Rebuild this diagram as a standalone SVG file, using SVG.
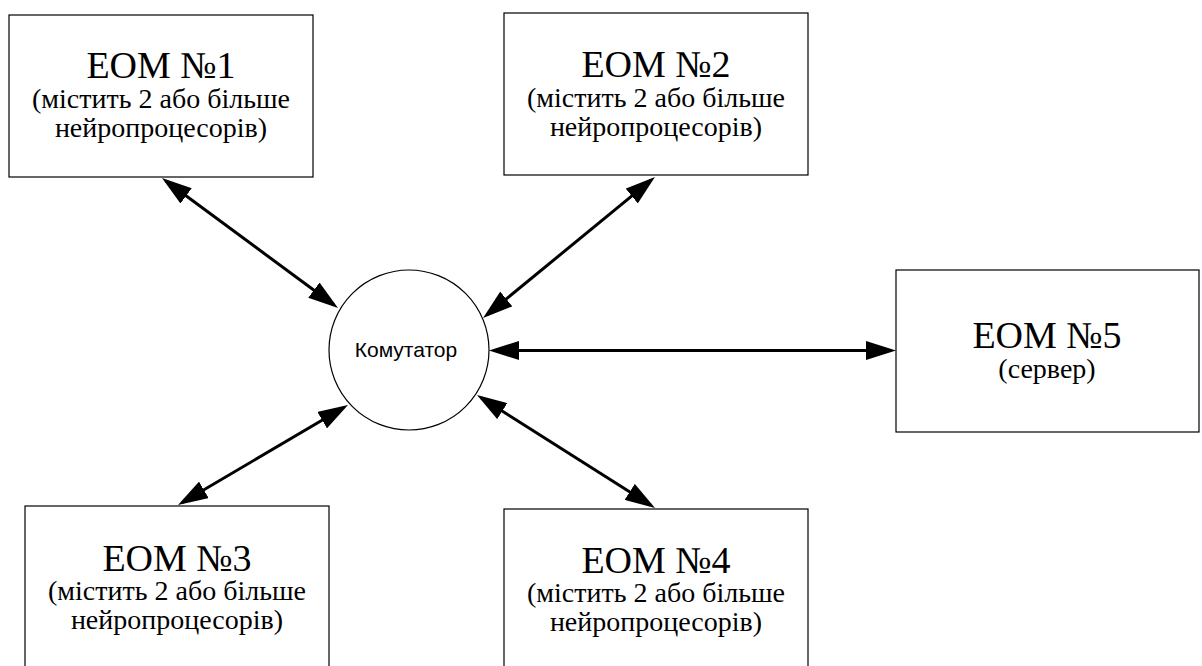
<svg xmlns="http://www.w3.org/2000/svg" width="1202" height="666" viewBox="0 0 1202 666">
  <style>
    .box { fill: #ffffff; stroke: #000000; stroke-width: 1.2; }
    .hub { fill: #ffffff; stroke: #000000; stroke-width: 1.2; }
    .title { font-family: 'Liberation Serif', 'Times New Roman', serif; font-size: 38px; fill: #000; text-anchor: middle; }
    .sub { font-family: 'Liberation Serif', 'Times New Roman', serif; font-size: 28px; fill: #000; text-anchor: middle; }
    .hubtext { font-family: 'Liberation Sans', Arial, sans-serif; font-size: 21px; fill: #000; text-anchor: middle; }
    .link { stroke: #000000; stroke-width: 3; fill: none; marker-start: url(#head); marker-end: url(#head); }
  </style>
  <defs>
    <marker id="head" viewBox="0 0 30 19" refX="25" refY="9.5" markerWidth="30" markerHeight="19" markerUnits="userSpaceOnUse" orient="auto-start-reverse">
      <path d="M0,0 L30,9.5 L0,19 z" fill="#000000"/>
    </marker>
  </defs>

  <rect width="1202" height="666" fill="#ffffff"/>

  <!-- connectors: double-headed links between the switch and each computer -->
  <g id="connectors">
    <line class="link" x1="166" y1="181" x2="334" y2="305"/>
    <line class="link" x1="651.1" y1="180.2" x2="486.9" y2="314.8"/>
    <line class="link" x1="494" y1="350.5" x2="891" y2="350.5"/>
    <line class="link" x1="343.7" y1="407.5" x2="182.3" y2="502.5"/>
    <line class="link" x1="481.2" y1="397.7" x2="650.8" y2="505.3"/>
  </g>

  <g id="hub">
    <circle class="hub" cx="409" cy="350" r="80"/>
    <text class="hubtext" x="406" y="357">Комутатор</text>
  </g>

  <g id="eom1">
    <rect class="box" x="9" y="15" width="304" height="162"/>
    <text class="title" x="161" y="78">ЕОМ №1</text>
    <text class="sub" x="161" y="108">(містить 2 або більше</text>
    <text class="sub" x="161" y="137">нейропроцесорів)</text>
  </g>

  <g id="eom2">
    <rect class="box" x="504" y="13" width="304" height="162"/>
    <text class="title" x="656" y="77">ЕОМ №2</text>
    <text class="sub" x="656" y="107">(містить 2 або більше</text>
    <text class="sub" x="656" y="136">нейропроцесорів)</text>
  </g>

  <g id="eom3">
    <rect class="box" x="25" y="506" width="304" height="162"/>
    <text class="title" x="177" y="571">ЕОМ №3</text>
    <text class="sub" x="177" y="600">(містить 2 або більше</text>
    <text class="sub" x="177" y="629">нейропроцесорів)</text>
  </g>

  <g id="eom4">
    <rect class="box" x="504" y="509" width="304" height="162"/>
    <text class="title" x="656" y="573">ЕОМ №4</text>
    <text class="sub" x="656" y="602">(містить 2 або більше</text>
    <text class="sub" x="656" y="631">нейропроцесорів)</text>
  </g>

  <g id="eom5">
    <rect class="box" x="896" y="270" width="303" height="162"/>
    <text class="title" x="1047" y="348">ЕОМ №5</text>
    <text class="sub" x="1047" y="378">(сервер)</text>
  </g>
</svg>
